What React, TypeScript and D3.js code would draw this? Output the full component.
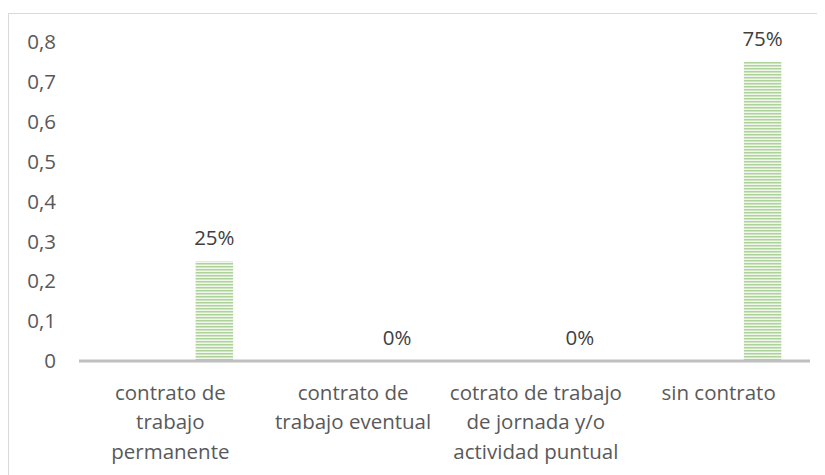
import React from "react";
import * as d3 from "d3";

const categories: string[][] = [
  ["contrato de", "trabajo", "permanente"],
  ["contrato de", "trabajo eventual"],
  ["cotrato de trabajo", "de jornada y/o", "actividad puntual"],
  ["sin contrato"],
];
const values: number[] = [0.25, 0, 0, 0.75];
const valueLabels: string[] = ["25%", "0%", "0%", "75%"];
const yTicks: number[] = [0, 0.1, 0.2, 0.3, 0.4, 0.5, 0.6, 0.7, 0.8];
const seriesSlots: string[] = ["Serie 1", "Serie 2"];

const W = 817;
const H = 467;
const FONT = "'Open Sans', 'Noto Sans', sans-serif";
const FS = 20.5;

export default function App() {
  const keys = categories.map((c) => c.join(" "));
  const x = d3.scaleBand<string>().domain(keys).range([71, 802]).padding(0);
  const inner = d3
    .scaleBand<string>()
    .domain(seriesSlots)
    .range([0, x.bandwidth()])
    .paddingInner(0.574)
    .paddingOuter(0.326);
  const y = d3.scaleLinear().domain([0, 0.8]).range([353, 34]);
  const fmt = (v: number) => d3.format(".1f")(v).replace(".", ",");

  return (
    <svg width={W} height={H} style={{ display: "block" }} fontFamily={FONT}>
      <defs>
        <pattern id="hstripe" patternUnits="userSpaceOnUse" width={4} height={3}>
          <rect width={4} height={3} fill="#f0f7ec" />
          <rect y={0} width={4} height={1} fill="#add39a" />
          <rect y={1} width={4} height={1} fill="#cfe5c2" />
        </pattern>
      </defs>
      <rect x={0.5} y={5.5} width={W + 20} height={H + 20} fill="#fff" stroke="#d9d9d9" strokeWidth={1} />
      {yTicks.map((t) => (
        <text
          key={t}
          x={48}
          y={y(t)}
          dy="0.35em"
          textAnchor="end"
          fontSize={FS}
          fill="#595959"
        >
          {t === 0 ? "0" : fmt(t)}
        </text>
      ))}
      {keys.map((k, i) => {
        const bx = (x(k) as number) + (inner(seriesSlots[1]) as number);
        const bw = inner.bandwidth();
        return (
          <g key={k}>
            <rect
              x={bx}
              y={y(values[i])}
              width={bw}
              height={y(0) - y(values[i])}
              fill="url(#hstripe)"
            />
            <text
              x={bx + bw / 2}
              y={y(values[i]) - 16}
              textAnchor="middle"
              fontSize={FS}
              fill="#404040"
            >
              {valueLabels[i]}
            </text>
          </g>
        );
      })}
      <line x1={71} x2={802} y1={y(0)} y2={y(0)} stroke="#bfbfbf" strokeWidth={3} />
      {keys.map((k, i) => (
        <text
          key={k}
          x={(x(k) as number) + x.bandwidth() / 2}
          y={392}
          textAnchor="middle"
          fontSize={FS}
          fill="#595959"
        >
          {categories[i].map((line, j) => (
            <tspan key={j} x={(x(k) as number) + x.bandwidth() / 2} y={392 + j * 29.3}>
              {line}
            </tspan>
          ))}
        </text>
      ))}
    </svg>
  );
}
